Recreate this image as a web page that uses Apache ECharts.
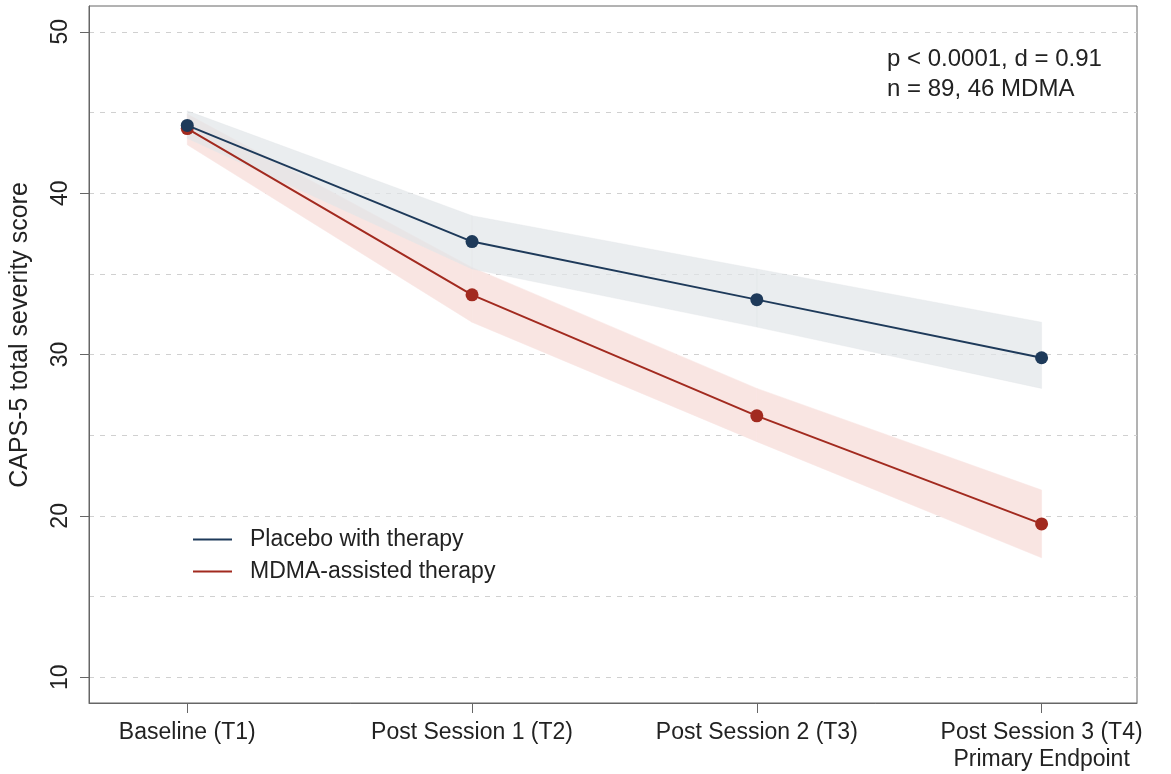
<!DOCTYPE html>
<html>
<head>
<meta charset="utf-8">
<script src="https://cdn.jsdelivr.net/npm/echarts@6/dist/echarts.min.js"></script>
<style>
  html, body { margin: 0; padding: 0; background: #fff; }
  #chart { width: 1171px; height: 774px; }
</style>
</head>
<body>
<div id="chart"></div>
<script>
  // time points (x positions 1..4)
  const timepoints = ['Baseline (T1)', 'Post Session 1 (T2)', 'Post Session 2 (T3)', 'Post Session 3 (T4)\nPrimary Endpoint'];
  const placeboMean = [44.2, 37.0, 33.4, 29.8];
  const placeboLow = [43.4, 35.3, 31.7, 27.9];
  const placeboHigh = [45.1, 38.6, 35.3, 32.0];
  const mdmaMean = [44.0, 33.7, 26.2, 19.5];
  const mdmaLow = [43.0, 32.0, 24.6, 17.4];
  const mdmaHigh = [44.9, 35.4, 27.9, 21.6];
  const yLabelTicks = [10, 20, 30, 40, 50];
  const yGridTicks = [10, 15, 20, 25, 30, 35, 40, 45, 50];
  const xTicks = [1, 2, 3, 4];

  const font = 'Liberation Sans, Arial, sans-serif';
  const navy = '#1e3a5a';
  const red = '#a22a1f';

  const pts = arr => arr.map((v, i) => [i + 1, v]);
  const bandData = (lo, hi) => lo.map((v, i) => [i + 1, v, hi[i]]);

  // one quad per segment between consecutive time points
  function bandSeries(name, lo, hi, fill, z) {
    return {
      name: name, type: 'custom', silent: true, z: z,
      data: bandData(lo, hi),
      encode: { x: 0, y: [1, 2] },
      renderItem: (params, api) => {
        const i = params.dataIndex;
        if (i >= lo.length - 1) return null;
        const poly = [
          api.coord([i + 1, lo[i]]),
          api.coord([i + 2, lo[i + 1]]),
          api.coord([i + 2, hi[i + 1]]),
          api.coord([i + 1, hi[i]])
        ];
        return { type: 'polygon', shape: { points: poly }, style: { fill: fill, stroke: fill, lineWidth: 0.5 } };
      }
    };
  }

  let myChart = echarts.init(document.getElementById('chart'));
  myChart.setOption({
    backgroundColor: '#fff',
    animation: false,
    textStyle: { fontFamily: font },
    grid: {
      left: 89, right: 34, top: 6, bottom: 71,
      show: true, borderColor: '#666', borderWidth: 1,
      containLabel: false
    },
    legend: {
      orient: 'vertical',
      left: 188, top: 523,
      itemWidth: 39, itemHeight: 2, itemGap: 9,
      icon: 'rect',
      textStyle: { fontSize: 23, color: '#222', fontFamily: font, padding: [0, 0, 0, 13] },
      data: ['Placebo with therapy', 'MDMA-assisted therapy']
    },
    graphic: [
      {
        type: 'text', left: 887, top: 44,
        style: { text: 'p < 0.0001, d = 0.91\nn = 89, 46 MDMA', fontSize: 24, lineHeight: 30, fill: '#222', fontFamily: font }
      },
      {
        type: 'text', x: 20, y: 335, rotation: Math.PI / 2,
        style: { text: 'CAPS-5 total severity score', fontSize: 25, fill: '#222', fontFamily: font, align: 'center', verticalAlign: 'middle' }
      }
    ],
    xAxis: {
      type: 'value',
      min: 0.655, max: 4.335,
      axisLine: { show: true, lineStyle: { color: '#666', width: 1 } },
      axisTick: { show: true, customValues: xTicks, length: 10, lineStyle: { color: '#666' } },
      axisLabel: {
        customValues: xTicks, margin: 16, fontSize: 23, color: '#222', lineHeight: 27,
        formatter: v => timepoints[Math.round(v) - 1] || ''
      },
      splitLine: { show: false }
    },
    yAxis: [
      {
        type: 'value',
        min: 8.4, max: 51.6,
        axisLine: { show: true, lineStyle: { color: '#666', width: 1 } },
        axisTick: { show: true, customValues: yLabelTicks, length: 9, lineStyle: { color: '#666' } },
        axisLabel: { customValues: yLabelTicks, rotate: 90, margin: 17, fontSize: 23, color: '#222' },
        splitLine: { show: false }
      },
      {
        type: 'value',
        min: 8.4, max: 51.6,
        position: 'left',
        axisLine: { show: false },
        axisTick: { show: false, customValues: yGridTicks },
        axisLabel: { show: false },
        splitLine: { show: true, lineStyle: { color: '#d0d0d0', type: [5, 6], width: 1 } }
      }
    ],
    series: [
      bandSeries('mdmaBand', mdmaLow, mdmaHigh, '#f9e5e2', 1),
      bandSeries('placeboBand', placeboLow, placeboHigh, 'rgba(225,229,232,0.7)', 2),
      {
        name: 'MDMA-assisted therapy', type: 'line', data: pts(mdmaMean),
        color: red, symbol: 'circle', symbolSize: 13,
        lineStyle: { color: red, width: 2 }, itemStyle: { color: red }, z: 3
      },
      {
        name: 'Placebo with therapy', type: 'line', data: pts(placeboMean),
        color: navy, symbol: 'circle', symbolSize: 13,
        lineStyle: { color: navy, width: 2 }, itemStyle: { color: navy }, z: 4
      }
    ]
  });
</script>
</body>
</html>
